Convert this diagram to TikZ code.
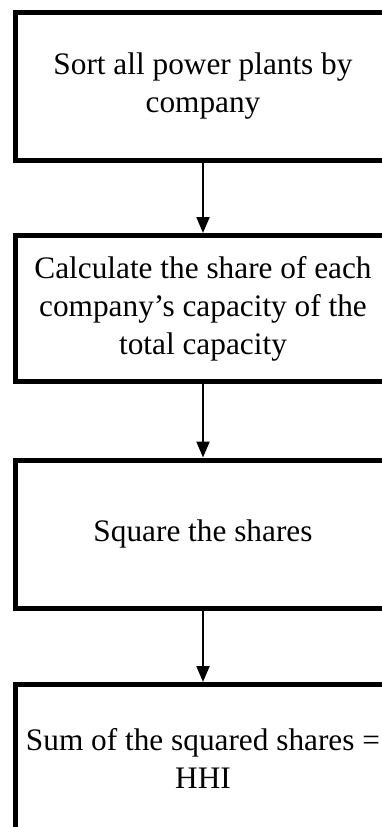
\documentclass[tikz,border=0pt]{standalone}
\usepackage{fontspec}
\setmainfont{Liberation Serif}
\usetikzlibrary{arrows.meta}
\begin{document}
\begin{tikzpicture}[x=1pt,y=1pt,
  stepbox/.style={draw=black, line width=5pt, rectangle, minimum width=375pt, minimum height=148pt,
    align=center, inner sep=0pt, font=\fontsize{31.3}{38}\selectfont},
  flow/.style={line width=2pt, -{Triangle[length=16pt,width=13pt]}}]
\useasboundingbox (0,0) rectangle (382,-827);
\clip (0,0) rectangle (382,-827);
\fill[white] (0,0) rectangle (382,-827);
\node[stepbox] (b1) at (203,-86.5) {Sort all power plants by\\company};
\node[stepbox, minimum height=146pt] (b2) at (203,-308.5) {Calculate the share of each\\company’s capacity of the\\total capacity};
\node[stepbox] (b3) at (203,-534) {Square the shares};
\node[stepbox] (b4) at (203,-758.5) {Sum of the squared shares =\\HHI};
\draw[flow] (b1) -- (b2);
\draw[flow] (b2) -- (b3);
\draw[flow] (b3) -- (b4);
\end{tikzpicture}
\end{document}
